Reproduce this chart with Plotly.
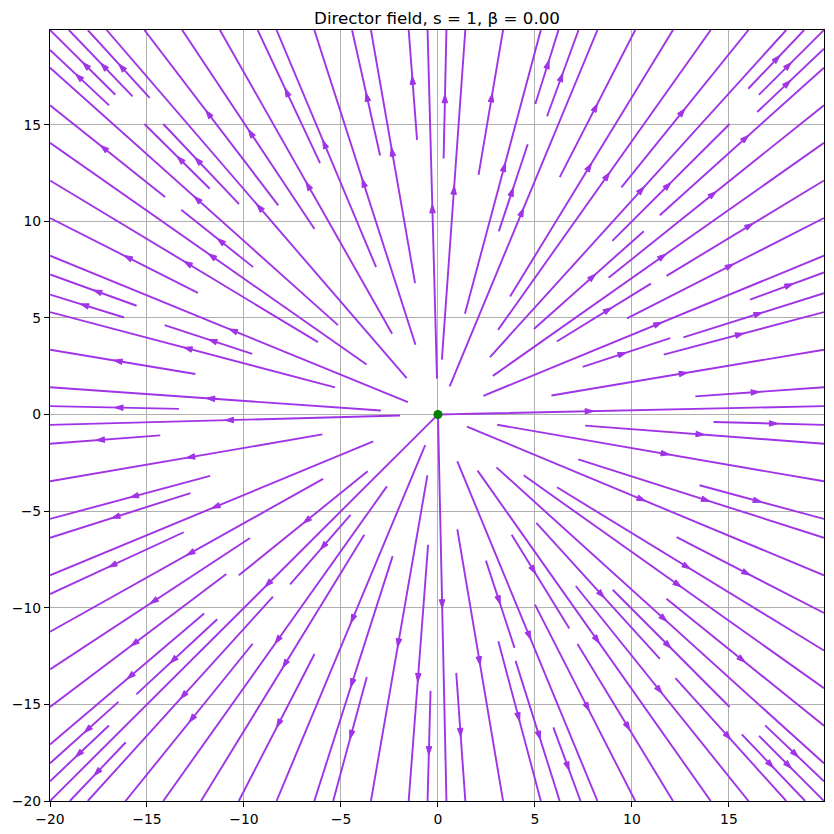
import numpy as np
import plotly.graph_objects as go

# ---- data: field definition and axis ticks ----
s_charge = 1
beta = 0.0
grid_start, grid_stop, grid_n = -20.0, 20.0, 400
density = 1.4
x_ticks = [-20, -15, -10, -5, 0, 5, 10, 15]
y_ticks = [-20, -15, -10, -5, 0, 5, 10, 15]
defect_x = [0.0]
defect_y = [0.0]

x = np.linspace(grid_start, grid_stop, grid_n, endpoint=False)
y = np.linspace(grid_start, grid_stop, grid_n, endpoint=False)
X, Y = np.meshgrid(x, y)
theta = s_charge * np.arctan2(Y, X) + beta
U = np.cos(theta)
V = np.sin(theta)


# ---- streamline integration (same scheme as matplotlib's streamplot) ----
class OutOfBounds(Exception):
    pass


class Terminate(Exception):
    pass


class InvalidIndex(Exception):
    pass


def compute_streamlines(x, y, u, v, density=1, minlength=0.1, maxlength=4.0):
    nx, ny = len(x), len(y)
    dx = x[1] - x[0]
    dy = y[1] - y[0]
    mnx = mny = int(30 * density)
    mask = np.zeros((mny, mnx))
    st = {"cur": None, "traj": []}
    xg2m = (mnx - 1) / (nx - 1)
    yg2m = (mny - 1) / (ny - 1)
    ug = u / dx
    vg = v / dy
    speed = np.sqrt((ug / (nx - 1)) ** 2 + (vg / (ny - 1)) ** 2)

    def within(xi, yi):
        return 0 <= xi <= nx - 1 and 0 <= yi <= ny - 1

    def g2m(xi, yi):
        return round(float(xi * xg2m)), round(float(yi * yg2m))

    def upd(xm, ym):
        if st["cur"] != (xm, ym):
            if mask[ym, xm] == 0:
                st["traj"].append((ym, xm))
                mask[ym, xm] = 1
                st["cur"] = (xm, ym)
            else:
                raise InvalidIndex

    def interp(a, xi, yi):
        Ny, Nx = a.shape
        xx = int(xi)
        yy = int(yi)
        xn = xx if xx == Nx - 1 else xx + 1
        yn = yy if yy == Ny - 1 else yy + 1
        xt = xi - xx
        yt = yi - yy
        a0 = a[yy, xx] * (1 - xt) + a[yy, xn] * xt
        a1 = a[yn, xx] * (1 - xt) + a[yn, xn] * xt
        return a0 * (1 - yt) + a1 * yt

    def fwd(xi, yi):
        if not within(xi, yi):
            raise OutOfBounds
        dsdt = interp(speed, xi, yi)
        if dsdt == 0:
            raise Terminate
        dtds = 1.0 / dsdt
        return interp(ug, xi, yi) * dtds, interp(vg, xi, yi) * dtds

    def bwd(xi, yi):
        a, b = fwd(xi, yi)
        return -a, -b

    def euler(traj, f):
        xi, yi = traj[-1]
        cx, cy = f(xi, yi)
        if cx == 0:
            dsx = np.inf
        elif cx < 0:
            dsx = xi / -cx
        else:
            dsx = (nx - 1 - xi) / cx
        if cy == 0:
            dsy = np.inf
        elif cy < 0:
            dsy = yi / -cy
        else:
            dsy = (ny - 1 - yi) / cy
        ds = min(dsx, dsy)
        traj.append((xi + cx * ds, yi + cy * ds))
        return ds, traj

    def rk12(x0, y0, f):
        maxerror = 0.003
        maxds = min(1.0 / mnx, 1.0 / mny, 0.1)
        ds = maxds
        stotal = 0
        xi, yi = x0, y0
        traj = []
        while True:
            try:
                if within(xi, yi):
                    traj.append((xi, yi))
                else:
                    raise OutOfBounds
                k1x, k1y = f(xi, yi)
                k2x, k2y = f(xi + ds * k1x, yi + ds * k1y)
            except OutOfBounds:
                if traj:
                    ds, traj = euler(traj, f)
                    stotal += ds
                break
            except Terminate:
                break
            dx1 = ds * k1x
            dy1 = ds * k1y
            dx2 = ds * 0.5 * (k1x + k2x)
            dy2 = ds * 0.5 * (k1y + k2y)
            error = np.hypot((dx2 - dx1) / (nx - 1), (dy2 - dy1) / (ny - 1))
            if error < maxerror:
                xi += dx2
                yi += dy2
                try:
                    if not within(xi, yi):
                        raise InvalidIndex
                    upd(*g2m(xi, yi))
                except InvalidIndex:
                    break
                if stotal + ds > maxlength:
                    break
                stotal += ds
            if error == 0:
                ds = maxds
            else:
                ds = min(maxds, 0.85 * ds * (maxerror / error) ** 0.5)
        return stotal, traj

    def integrate(x0, y0):
        stotal = 0.0
        xy = []
        try:
            st["traj"] = []
            upd(*g2m(x0, y0))
        except InvalidIndex:
            return None
        s, xyt = rk12(x0, y0, bwd)
        stotal += s
        xy += xyt[::-1]
        st["cur"] = g2m(x0, y0)
        s, xyt = rk12(x0, y0, fwd)
        stotal += s
        xy += xyt[1:]
        if stotal > minlength:
            return np.array(xy, dtype=float)
        for t in st["traj"]:
            mask[t] = 0
        return None

    def starts(shape):
        ny_, nx_ = shape
        xfirst, yfirst = 0, 1
        xlast, ylast = nx_ - 1, ny_ - 1
        xs, ys = 0, 0
        direction = "right"
        for _ in range(nx_ * ny_):
            yield xs, ys
            if direction == "right":
                xs += 1
                if xs >= xlast:
                    xlast -= 1
                    direction = "up"
            elif direction == "up":
                ys += 1
                if ys >= ylast:
                    ylast -= 1
                    direction = "left"
            elif direction == "left":
                xs -= 1
                if xs <= xfirst:
                    xfirst += 1
                    direction = "down"
            elif direction == "down":
                ys -= 1
                if ys <= yfirst:
                    yfirst += 1
                    direction = "right"

    trajs = []
    for xm, ym in starts(mask.shape):
        if mask[ym, xm] == 0:
            xg, yg = xm / xg2m, ym / yg2m
            t = integrate(xg, yg)
            if t is not None:
                trajs.append(t)

    out = []
    for t in trajs:
        tx = t[:, 0] * dx + x[0]
        ty = t[:, 1] * dy + y[0]
        out.append((tx, ty))
    return out


lines = compute_streamlines(x, y, U, V, density)

# ---- layout (the page body adds an 8px offset) ----
W, H = 818, 818
ML, MR, MT, MB = 42, 2, 22, 25
x_range = [x[0], x[-1]]
y_range = [y[0], y[-1]]
sx = (W - ML - MR) / (x_range[1] - x_range[0])
sy = (H - MT - MB) / (y_range[1] - y_range[0])

lx, ly = [], []
ax_, ay_, aang = [], [], []
for tx, ty in lines:
    lx.extend(tx.tolist() + [None])
    ly.extend(ty.tolist() + [None])
    seg = np.cumsum(np.hypot(np.diff(tx), np.diff(ty)))
    n = int(np.searchsorted(seg, seg[-1] / 2.0))
    tail = (tx[n], ty[n])
    head = (np.mean(tx[n:n + 2]), np.mean(ty[n:n + 2]))
    ddx = (head[0] - tail[0]) * sx
    ddy = (head[1] - tail[1]) * sy
    ax_.append(head[0])
    ay_.append(head[1])
    aang.append(float(np.degrees(np.arctan2(ddx, ddy))))

color = "#A033E6"
fig = go.Figure()
fig.add_trace(go.Scatter(x=lx, y=ly, mode="lines",
                         line=dict(color=color, width=1.9),
                         hoverinfo="skip", showlegend=False))
fig.add_trace(go.Scatter(x=ax_, y=ay_, mode="markers",
                         marker=dict(symbol="arrow", size=9, angle=aang,
                                     color=color,
                                     line=dict(color=color, width=1)),
                         hoverinfo="skip", showlegend=False))
fig.add_trace(go.Scatter(x=defect_x, y=defect_y, mode="markers",
                         marker=dict(color="green", size=9),
                         hoverinfo="skip", showlegend=False))

axis_common = dict(showgrid=True, gridcolor="#b0b0b0", gridwidth=1,
                   showline=True, linecolor="black", linewidth=1.1,
                   mirror=True, ticks="outside", ticklen=5, tickwidth=1.1,
                   tickcolor="black", zeroline=False, automargin=False,
                   tickfont=dict(family="DejaVu Sans", size=13.9, color="black"))
fig.update_layout(
    width=W, height=H,
    margin=dict(l=ML, r=MR, t=MT, b=MB),
    paper_bgcolor="white", plot_bgcolor="white",
    title=dict(text="Director field, s = 1, β = 0.00", x=0.5, xref="paper",
               xanchor="center", y=1 - 10.2 / H, yref="container",
               yanchor="middle",
               font=dict(family="DejaVu Sans", size=16.7, color="black")),
    xaxis=dict(range=x_range, tickvals=x_ticks, **axis_common),
    yaxis=dict(range=y_range, tickvals=y_ticks, **axis_common),
)
fig.write_html("out.html")
